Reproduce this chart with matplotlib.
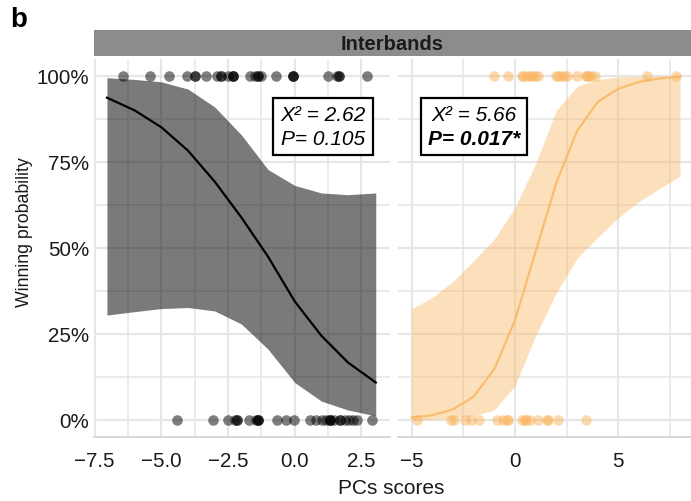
import matplotlib
matplotlib.use("Agg")
import matplotlib.pyplot as plt
from matplotlib.patches import Rectangle
from matplotlib.ticker import MultipleLocator, FixedLocator

plt.rcParams['font.family'] = ['Liberation Sans', 'DejaVu Sans']

# ---- data -------------------------------------------------------------
# Left panel: observed outcomes (1 = won, 0 = lost) by PC score
left_won_x = [-6.43, -5.43, -4.71, -4.05, -3.74, -3.74, -3.34, -2.92, -2.76, -2.76,
              -2.51, -2.30, -2.30, -2.30, -1.69, -1.48, -1.38, -1.38, -1.25, -0.71,
              -0.05, -0.05, -0.05, 1.26, 1.57, 1.67, 1.67, 2.70]
left_lost_x = [-4.40, -3.05, -2.49, -2.24, -2.15, -2.15, -1.71, -1.46, -1.39, -1.39,
               -1.39, -0.65, -0.33, -0.03, 0.56, 0.79, 1.04, 1.19, 1.34, 1.34, 1.34,
               1.46, 1.69, 1.69, 1.88, 2.04, 2.19, 2.34, 2.89]

# Left panel: fitted logistic curve with confidence band
left_fit_x = [-7.04, -6.0, -5.0, -4.0, -3.0, -2.0, -1.0, 0.0, 1.0, 2.0, 3.04]
left_fit_p = [0.937, 0.900, 0.851, 0.783, 0.693, 0.589, 0.475, 0.345, 0.245, 0.167, 0.109]
left_fit_lo = [0.305, 0.315, 0.324, 0.327, 0.317, 0.279, 0.206, 0.109, 0.055, 0.029, 0.012]
left_fit_hi = [0.995, 0.990, 0.983, 0.962, 0.910, 0.829, 0.728, 0.682, 0.660, 0.655, 0.660]

# Right panel: observed outcomes
right_won_x = [-1.00, -0.32, 0.32, 0.40, 0.56, 0.73, 0.84, 0.97, 1.10, 1.98, 2.10,
               2.21, 2.38, 2.50, 2.98, 3.42, 3.50, 3.55, 3.70, 3.87, 6.37, 7.80]
right_lost_x = [-4.76, -3.10, -2.94, -2.42, -2.13, -1.74, -0.89, -0.57, -0.40, -0.35,
                0.32, 0.48, 0.52, 0.73, 1.13, 1.53, 1.61, 2.07, 3.43]

# Right panel: fitted logistic curve with confidence band
right_fit_x = [-5.0, -4.0, -3.0, -2.0, -1.0, 0.0, 1.0, 2.0, 3.0, 4.0, 5.0, 6.0, 7.0, 7.98]
right_fit_p = [0.007, 0.014, 0.031, 0.068, 0.148, 0.290, 0.490, 0.690, 0.840, 0.925,
               0.963, 0.983, 0.993, 0.998]
right_fit_lo = [0.000, 0.001, 0.005, 0.012, 0.029, 0.100, 0.245, 0.370, 0.470, 0.531,
                0.588, 0.635, 0.673, 0.709]
right_fit_hi = [0.324, 0.356, 0.403, 0.463, 0.526, 0.618, 0.745, 0.900, 0.970, 0.990,
                0.997, 0.999, 1.000, 1.000]

left_stats = ("X² = 2.62", "P= 0.105")
right_stats = ("X² = 5.66", "P= 0.017*")

left_xticks = [-7.5, -5.0, -2.5, 0.0, 2.5]
right_xticks = [-5, 0, 5]
y_ticks = [0, 0.25, 0.5, 0.75, 1.0]
y_ticklabels = ["0%", "25%", "50%", "75%", "100%"]

strip_title = "Interbands"
panel_tag = "b"

# ---- styling ----------------------------------------------------------
W, H = 691, 502
fig = plt.figure(figsize=(W / 100, H / 100), dpi=100)

GRID = "#e6e6e6"
ORANGE = (0.98, 0.71, 0.37)
PT_SIZE = 58


def px_box(x0, x1, y_top, y_bot):
    return [x0 / W, 1 - y_bot / H, (x1 - x0) / W, (y_bot - y_top) / H]


ax_l = fig.add_axes(px_box(93.5, 389.5, 59.8, 438.2))
ax_r = fig.add_axes(px_box(398, 693, 59.8, 438.2))

for ax in (ax_l, ax_r):
    ax.set_ylim(-0.05, 1.05)
    ax.yaxis.set_major_locator(FixedLocator(y_ticks))
    ax.yaxis.set_minor_locator(MultipleLocator(0.125))
    ax.grid(True, which='major', color=GRID, lw=1.5, zorder=0)
    ax.grid(True, which='minor', color=GRID, lw=1.1, zorder=0)
    ax.set_axisbelow(True)
    for s in ("top", "right", "left"):
        ax.spines[s].set_visible(False)
    ax.spines["bottom"].set_color("#d4d4d4")
    ax.spines["bottom"].set_linewidth(1.3)
    ax.tick_params(which='both', length=0, labelsize=14.8, colors="#1a1a1a")
    ax.tick_params(axis='x', pad=10)
    ax.tick_params(axis='y', pad=3)

ax_l.set_xlim(-7.544, 3.555)
ax_l.xaxis.set_major_locator(FixedLocator(left_xticks))
ax_l.xaxis.set_minor_locator(MultipleLocator(1.25))
ax_l.set_xticklabels([f"{v:.1f}".replace("-", "\u2212") for v in left_xticks])
ax_l.set_yticklabels(y_ticklabels)

ax_r.set_xlim(-5.66, 8.61)
ax_r.xaxis.set_major_locator(FixedLocator(right_xticks))
ax_r.xaxis.set_minor_locator(MultipleLocator(2.5))
ax_r.set_xticklabels([f"{v:d}".replace("-", "\u2212") for v in right_xticks])
ax_r.tick_params(axis='y', labelleft=False)

# ---- left panel -------------------------------------------------------
ax_l.fill_between(left_fit_x, left_fit_lo, left_fit_hi, color="black", alpha=0.52,
                  lw=0, zorder=2)
ax_l.plot(left_fit_x, left_fit_p, color="black", lw=1.6, zorder=3)
ax_l.scatter(left_won_x, [1] * len(left_won_x), s=PT_SIZE, color="black", alpha=0.5,
             lw=0, zorder=4)
ax_l.scatter(left_lost_x, [0] * len(left_lost_x), s=PT_SIZE, color="black", alpha=0.5,
             lw=0, zorder=4)

# ---- right panel ------------------------------------------------------
ax_r.fill_between(right_fit_x, right_fit_lo, right_fit_hi, color=ORANGE, alpha=0.42,
                  lw=0, zorder=2)
ax_r.plot(right_fit_x, right_fit_p, color=ORANGE, alpha=0.8, lw=1.6, zorder=3)
ax_r.scatter(right_won_x, [1] * len(right_won_x), s=PT_SIZE, color=ORANGE, alpha=0.5,
             lw=0, zorder=4)
ax_r.scatter(right_lost_x, [0] * len(right_lost_x), s=PT_SIZE, color=ORANGE, alpha=0.5,
             lw=0, zorder=4)


# ---- statistics boxes -------------------------------------------------
def stat_box(ax, x0, x1, y0, y1, lines, bold_second=False):
    ax.add_patch(Rectangle((x0, y0), x1 - x0, y1 - y0, facecolor="white",
                           edgecolor="black", lw=1.6, zorder=5))
    xc = (x0 + x1) / 2
    h = y1 - y0
    ax.text(xc, y0 + h * 0.72, lines[0], ha="center", va="center", fontsize=15,
            style="italic", zorder=6)
    ax.text(xc, y0 + h * 0.29, lines[1], ha="center", va="center", fontsize=15,
            style="italic", weight="bold" if bold_second else "normal", zorder=6)


stat_box(ax_l, -0.814, 2.936, 0.770, 0.936, left_stats)
stat_box(ax_r, -4.55, 0.60, 0.770, 0.936, right_stats, bold_second=True)

# ---- facet strip, titles, tag -----------------------------------------
strip = fig.add_axes(px_box(93.5, 693, 31, 57))
strip.set_facecolor("#8c8c8c")
strip.set_xticks([])
strip.set_yticks([])
for s in strip.spines.values():
    s.set_visible(False)
strip.text(298.75 / 599.5, 0.5, strip_title, transform=strip.transAxes, ha="center",
           va="center", fontsize=14.5, weight="bold", color="#1a1a1a")

fig.text(391 / W, 1 - 489 / H, "PCs scores", ha="center", va="center", fontsize=15,
         color="#1a1a1a")
fig.text(25 / W, 1 - 232 / H, "Winning probability", ha="center", va="center",
         rotation=90, fontsize=12.8, color="#1a1a1a")
fig.text(10 / W, 1 - 20 / H, panel_tag, ha="left", va="center", fontsize=20,
         weight="bold", color="black")

fig.savefig("out.png", dpi=100)
